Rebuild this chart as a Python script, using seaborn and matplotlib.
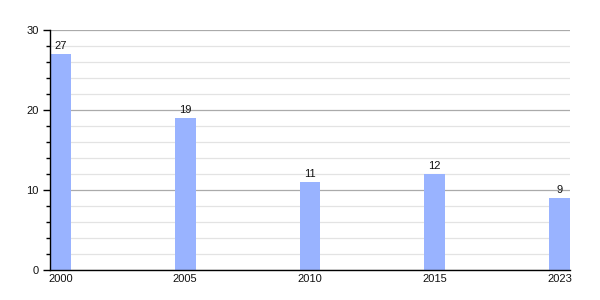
import matplotlib
matplotlib.use("Agg")
import matplotlib.pyplot as plt
import seaborn as sns
import pandas as pd
from matplotlib.ticker import MultipleLocator

years = ["2000", "2005", "2010", "2015", "2023"]
values = [27, 19, 11, 12, 9]

df = pd.DataFrame({"year": years, "value": values})

sns.set_theme(style="white")
plt.rcParams["font.family"] = ["Liberation Sans", "DejaVu Sans"]

fig = plt.figure(figsize=(6, 3), dpi=100)
ax = fig.add_axes([50/600, 30/300, 520/600, 240/300])

bw = 0.168
sns.barplot(data=df, x="year", y="value", color="#99b3ff", saturation=1,
            width=bw, ax=ax, zorder=3, linewidth=0, edgecolor="none")

ax.set_xlim(-bw/2, len(years) - 1 + bw/2)
ax.set_ylim(0, 30)
ax.yaxis.set_major_locator(MultipleLocator(10))
ax.yaxis.set_minor_locator(MultipleLocator(2))
ax.grid(which="major", axis="y", color="#aaaaaa", linewidth=0.9, zorder=0)
ax.grid(which="minor", axis="y", color="#e3e3e3", linewidth=0.9, zorder=0)
ax.set_axisbelow(True)

for s in ["top", "right"]:
    ax.spines[s].set_visible(False)
for s in ["left", "bottom"]:
    ax.spines[s].set_color("black")
    ax.spines[s].set_linewidth(1.0)
    ax.spines[s].set_zorder(4)

ax.tick_params(axis="y", which="major", left=True, length=5, width=1, color="black",
               labelsize=8, pad=3, labelcolor="#111111")
ax.tick_params(axis="y", which="minor", left=True, length=3, width=1, color="black")
ax.tick_params(axis="x", bottom=False, length=0, labelsize=8, pad=3, labelcolor="#111111")
ax.set_xlabel("")
ax.set_ylabel("")

for i, v in enumerate(values):
    ax.annotate(str(v), (i, v), xytext=(0, 2), textcoords="offset points",
                ha="center", va="bottom", fontsize=8, color="#111111")

fig.savefig("out.png", dpi=100)
